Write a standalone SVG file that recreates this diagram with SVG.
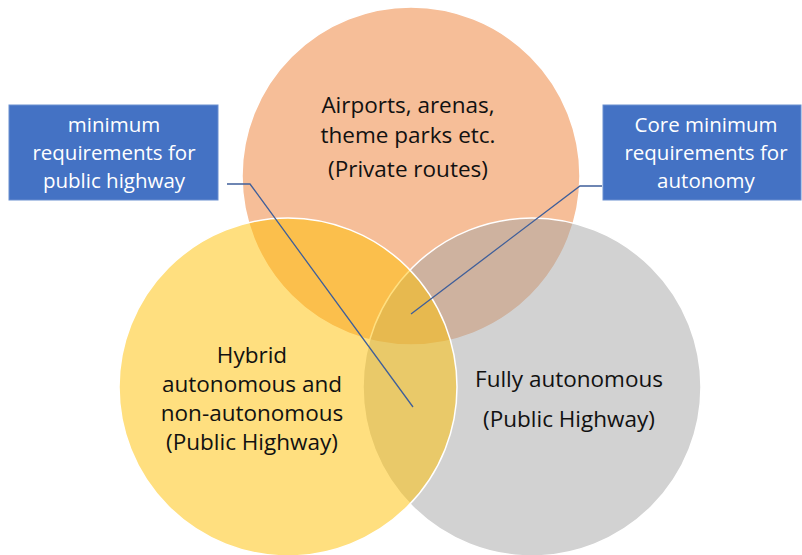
<svg xmlns="http://www.w3.org/2000/svg" width="802" height="555" viewBox="0 0 802 555">
<style>
.c{stroke:#ffffff;stroke-width:1.5;fill-opacity:0.5}
.t{font-family:"Open Sans","Noto Sans","Liberation Sans",sans-serif;font-size:22.5px;fill:#111111;text-anchor:middle}
.bt{font-family:"Open Sans","Noto Sans","Liberation Sans",sans-serif;font-size:20.5px;fill:#ffffff;text-anchor:middle}
.box{fill:#4472C4;stroke:#6A8FD0;stroke-width:1}
.con{fill:none;stroke:#3F5F9A;stroke-width:1.3}
</style>
<rect width="802" height="555" fill="#ffffff"/>
<g id="private">
<circle class="c" cx="411" cy="176" r="169" fill="#ED7D31"/>
</g>
<g id="fully">
<circle class="c" cx="532" cy="387" r="169" fill="#A5A5A5"/>
</g>
<g id="hybrid">
<circle class="c" cx="288" cy="387" r="169" fill="#FFC000"/>
</g>
<g id="private-label">
<text class="t" x="408" y="113">Airports, arenas,</text>
<text class="t" x="408" y="143">theme parks etc.</text>
<text class="t" x="408" y="177">(Private routes)</text>
</g>
<g id="hybrid-label">
<text class="t" x="252" y="363">Hybrid</text>
<text class="t" x="252" y="392">autonomous and</text>
<text class="t" x="252" y="421">non-autonomous</text>
<text class="t" x="252" y="450">(Public Highway)</text>
</g>
<g id="fully-label">
<text class="t" x="569" y="387">Fully autonomous</text>
<text class="t" x="569" y="427">(Public Highway)</text>
</g>
<g id="connectors">
<polyline class="con" points="227,184 250,184 413,407"/>
<polyline class="con" points="602,186 580,186 411,314"/>
</g>
<g id="box-public">
<rect class="box" x="9" y="105" width="209" height="95"/>
<text class="bt" x="114" y="132">minimum</text>
<text class="bt" x="114" y="160">requirements for</text>
<text class="bt" x="114" y="188">public highway</text>
</g>
<g id="box-core">
<rect class="box" x="603" y="105" width="198" height="95"/>
<text class="bt" x="706" y="132">Core minimum</text>
<text class="bt" x="706" y="160">requirements for</text>
<text class="bt" x="706" y="188">autonomy</text>
</g>
</svg>
